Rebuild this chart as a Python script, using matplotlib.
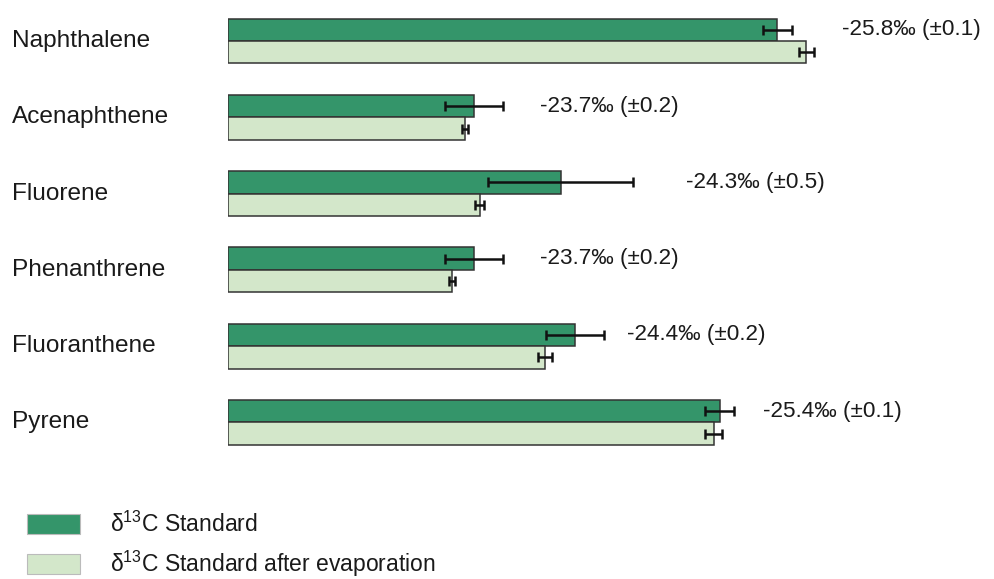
import matplotlib
matplotlib.use("Agg")
import matplotlib.pyplot as plt
from matplotlib.patches import Patch
from matplotlib.transforms import blended_transform_factory

plt.rcParams["font.family"] = ["Liberation Sans", "DejaVu Sans"]
plt.rcParams["mathtext.fontset"] = "custom"
plt.rcParams["mathtext.rm"] = "Liberation Sans"

# δ13C values (‰) of the PAH standards
compounds = ["Naphthalene", "Acenaphthene", "Fluorene",
             "Phenanthrene", "Fluoranthene", "Pyrene"]
standard = [-25.8, -23.7, -24.3, -23.7, -24.4, -25.4]
standard_err = [0.1, 0.2, 0.5, 0.2, 0.2, 0.1]
evaporated = [-26.0, -23.64, -23.74, -23.55, -24.19, -25.36]
evaporated_err = [0.05, 0.02, 0.03, 0.02, 0.05, 0.06]

# horizontal placement of the value annotations (‰ axis units)
label_x = [-26.25, -24.16, -25.17, -24.16, -24.76, -25.70]

base = -22.0
dark = "#34956A"
light = "#D3E7CA"
edge = "#333333"
text_color = "#1a1a1a"

fig = plt.figure(figsize=(9.94, 5.79), dpi=100)
W, H = 994, 579
x0_px = 228.3
px_per_unit = 144.5
group_px = 76.3
first_px = 41.0

ax = fig.add_axes([x0_px / W, 0, 1 - x0_px / W, 1])
ax.set_xlim(base, base - (W - x0_px) / px_per_unit)
ax.set_ylim(5 + (H - (first_px + 5 * group_px)) / group_px, -first_px / group_px)
ax.axis("off")

h = 22.5 / group_px
ys = list(range(len(compounds)))
y_dark = [y - h / 2 for y in ys]
y_light = [y + h / 2 for y in ys]

ax.barh(y_dark, [v - base for v in standard], left=base, height=h,
        color=dark, edgecolor=edge, linewidth=1.1, zorder=2)
ax.barh(y_light, [v - base for v in evaporated], left=base, height=h,
        color=light, edgecolor=edge, linewidth=1.1, zorder=2)

eb = dict(fmt="none", ecolor="#111111", elinewidth=1.8, capthick=1.8,
          capsize=3.9, zorder=3)
ax.errorbar(standard, y_dark, xerr=standard_err, **eb)
ax.errorbar(evaporated, y_light, xerr=evaporated_err, **eb)

for y, v, e, lx in zip(y_dark, standard, standard_err, label_x):
    ax.text(lx, y, f"{v:.1f}\u2030 (\u00b1{e:.1f})", fontsize=16.2,
            ha="left", va="center", color=text_color, clip_on=False)

trans = blended_transform_factory(fig.transFigure, ax.transData)
for y, name in zip(ys, compounds):
    ax.text(12 / W, y, name, transform=trans, fontsize=17.6,
            ha="left", va="center", color=text_color)

handles = [Patch(facecolor=dark, edgecolor="#bbbbbb", linewidth=0.8),
           Patch(facecolor=light, edgecolor="#bbbbbb", linewidth=0.8)]
labels = [r"$\mathregular{\delta^{13}}$C Standard",
          r"$\mathregular{\delta^{13}}$C Standard after evaporation"]
leg = ax.legend(handles, labels, loc="upper left",
                bbox_to_anchor=(27 / W, 1 - 512 / H),
                bbox_transform=fig.transFigure, frameon=False,
                borderaxespad=0, borderpad=0, fontsize=16.5,
                handlelength=2.3, handleheight=0.95, handletextpad=1.3,
                labelspacing=0.5)
for t in leg.get_texts():
    t.set_color(text_color)

fig.savefig("out.png", dpi=100)
